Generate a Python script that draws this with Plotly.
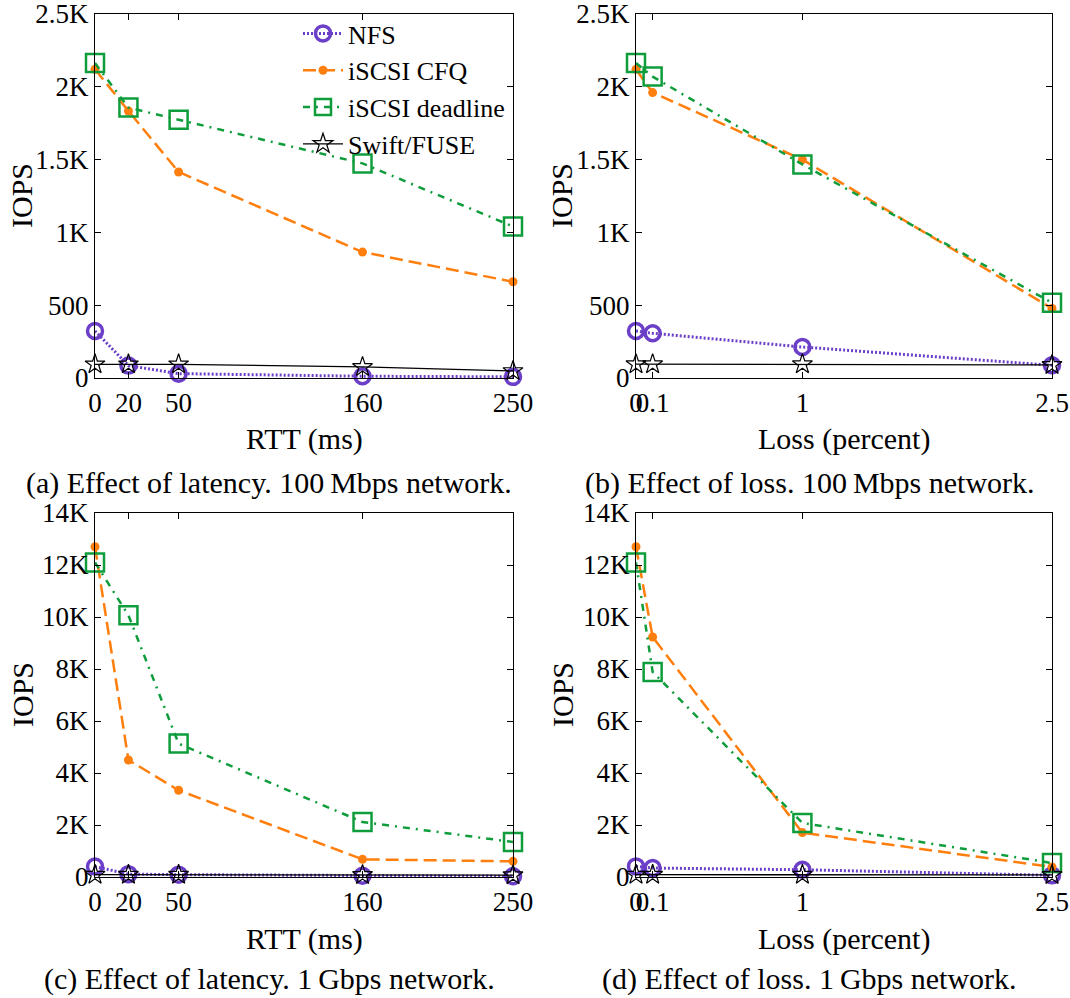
import plotly.graph_objects as go

# ---------------- data ----------------
rtt = [0, 20, 50, 160, 250]
loss = [0, 0.1, 1, 2.5]

# (a) latency, 100 Mbps
a_nfs = [323, 85, 30, 12, 8]
a_cfq = [2120, 1834, 1415, 865, 661]
a_deadline = [2163, 1857, 1774, 1474, 1041]
a_swift = [94, 94, 94, 76, 48]

# (b) loss, 100 Mbps
b_nfs = [323, 307, 213, 87]
b_cfq = [2120, 1960, 1500, 478]
b_deadline = [2163, 2070, 1467, 517]
b_swift = [95, 95, 95, 90]

# (c) latency, 1 Gbps
c_nfs = [400, 110, 90, 50, 30]
c_cfq = [12700, 4500, 3335, 680, 603]
c_deadline = [12100, 10065, 5130, 2115, 1346]
c_swift = [90, 90, 90, 80, 70]

# (d) loss, 1 Gbps
d_nfs = [408, 344, 280, 64]
d_cfq = [12700, 9230, 1707, 385]
d_deadline = [12100, 7885, 2077, 538]
d_swift = [90, 90, 90, 80]

series_names = ["NFS", "iSCSI CFQ", "iSCSI deadline", "Swift/FUSE"]

y_small_vals = [0, 500, 1000, 1500, 2000, 2500]
y_small_text = ["0", "500", "1K", "1.5K", "2K", "2.5K"]
y_big_vals = [0, 2000, 4000, 6000, 8000, 10000, 12000, 14000]
y_big_text = ["0", "2K", "4K", "6K", "8K", "10K", "12K", "14K"]
rtt_ticks = ["0", "20", "50", "160", "250"]
loss_ticks = ["0", "0.1", "1", "2.5"]

captions = [
    "(a) Effect of latency. 100\u2009Mbps network.",
    "(b) Effect of loss. 100\u2009Mbps network.",
    "(c) Effect of latency. 1\u2009Gbps network.",
    "(d) Effect of loss. 1\u2009Gbps network.",
]

# ---------------- styles ----------------
FONT = "Liberation Serif"
PURPLE = "#6b3fc8"
ORANGE = "#ff7f0e"
GREEN = "#0f9d3c"
BLACK = "#000000"

styles = [
    dict(line=dict(color=PURPLE, width=3, dash="2px,2px"),
         marker=dict(symbol="circle-open", size=15, color=PURPLE, line=dict(width=3.5, color=PURPLE))),
    dict(line=dict(color=ORANGE, width=2.5, dash="13px,6px"),
         marker=dict(symbol="circle", size=9, color=ORANGE)),
    dict(line=dict(color=GREEN, width=2.5, dash="7px,6px,2px,6px"),
         marker=dict(symbol="square-open", size=18, color=GREEN, line=dict(width=2.5, color=GREEN))),
    dict(line=dict(color=BLACK, width=1.3),
         marker=dict(symbol="star-open", size=15, color=BLACK, line=dict(width=1.2, color=BLACK))),
]

panels = [
    ("x", "y", rtt, [a_nfs, a_cfq, a_deadline, a_swift]),
    ("x2", "y2", loss, [b_nfs, b_cfq, b_deadline, b_swift]),
    ("x3", "y3", rtt, [c_nfs, c_cfq, c_deadline, c_swift]),
    ("x4", "y4", loss, [d_nfs, d_cfq, d_deadline, d_swift]),
]

fig = go.Figure()
for pi, (xa, ya, xs, ys) in enumerate(panels):
    for si in [0, 1, 2, 3]:
        fig.add_trace(go.Scatter(
            x=xs, y=ys[si], name=series_names[si], mode="lines+markers",
            xaxis=xa, yaxis=ya, cliponaxis=False,
            showlegend=(pi == 0), legendrank=si + 1,
            **styles[si]))

W, H = 1070, 998
def px_x(v):
    return v / W
def px_y(v):
    return 1 - v / H

left_dom = [px_x(95), px_x(513)]
right_dom = [px_x(636), px_x(1052)]
top_dom = [px_y(378), px_y(14)]
bot_dom = [px_y(877), px_y(513)]

TICK_SIZE = 27
TITLE_SIZE = 30
CAPTION_SIZE = 30

tickfont = dict(family=FONT, size=TICK_SIZE, color="black")
common_axis = dict(showline=True, linecolor="black", linewidth=1.3, mirror="allticks",
                   ticks="inside", ticklen=6, tickwidth=1.2, tickcolor="black",
                   showgrid=False, zeroline=False, tickfont=tickfont, tickangle=0,
                   automargin=False, ticklabeloverflow="allow")

layout = dict(
    width=W, height=H,
    margin=dict(l=0, r=0, t=0, b=0, pad=0, autoexpand=False),
    paper_bgcolor="white", plot_bgcolor="white",
    font=dict(family=FONT, size=TICK_SIZE, color="black"),
    xaxis=dict(domain=left_dom, anchor="y", range=[0, 250], tickmode="array",
               tickvals=rtt, ticktext=rtt_ticks, **common_axis),
    yaxis=dict(domain=top_dom, anchor="x", range=[0, 2500], tickmode="array",
               tickvals=y_small_vals, ticktext=y_small_text, **common_axis),
    xaxis2=dict(domain=right_dom, anchor="y2", range=[0, 2.5], tickmode="array",
                tickvals=loss, ticktext=loss_ticks, **common_axis),
    yaxis2=dict(domain=top_dom, anchor="x2", range=[0, 2500], tickmode="array",
                tickvals=y_small_vals, ticktext=y_small_text, **common_axis),
    xaxis3=dict(domain=left_dom, anchor="y3", range=[0, 250], tickmode="array",
                tickvals=rtt, ticktext=rtt_ticks, **common_axis),
    yaxis3=dict(domain=bot_dom, anchor="x3", range=[0, 14000], tickmode="array",
                tickvals=y_big_vals, ticktext=y_big_text, **common_axis),
    xaxis4=dict(domain=right_dom, anchor="y4", range=[0, 2.5], tickmode="array",
                tickvals=loss, ticktext=loss_ticks, **common_axis),
    yaxis4=dict(domain=bot_dom, anchor="x4", range=[0, 14000], tickmode="array",
                tickvals=y_big_vals, ticktext=y_big_text, **common_axis),
    legend=dict(x=px_x(510), y=px_y(10), xanchor="right", yanchor="top",
                bgcolor="rgba(0,0,0,0)", font=dict(family=FONT, size=26),
                tracegroupgap=0, itemwidth=40, borderwidth=0),
    showlegend=True,
)
fig.update_layout(**layout)

annots = []
# y-axis titles
for xc, yc in [(22, 196), (562, 196), (22, 695), (562, 695)]:
    annots.append(dict(text="IOPS", x=px_x(xc), y=px_y(yc), xref="paper", yref="paper",
                       showarrow=False, textangle=-90, xanchor="center", yanchor="middle",
                       font=dict(family=FONT, size=TITLE_SIZE)))
# x-axis titles
for txt, xc, yc in [("RTT (ms)", 304, 439), ("Loss (percent)", 844, 439),
                    ("RTT (ms)", 304, 939), ("Loss (percent)", 844, 939)]:
    annots.append(dict(text=txt, x=px_x(xc), y=px_y(yc), xref="paper", yref="paper",
                       showarrow=False, xanchor="center", yanchor="middle",
                       font=dict(family=FONT, size=TITLE_SIZE)))
# captions
for txt, xc, yc in zip(captions, [269, 810, 270, 809], [483, 483, 979, 979]):
    annots.append(dict(text=txt, x=px_x(xc), y=px_y(yc), xref="paper", yref="paper",
                       showarrow=False, xanchor="center", yanchor="middle",
                       font=dict(family=FONT, size=CAPTION_SIZE)))
fig.update_layout(annotations=annots)

fig.write_html("out.html", config={"responsive": False})
